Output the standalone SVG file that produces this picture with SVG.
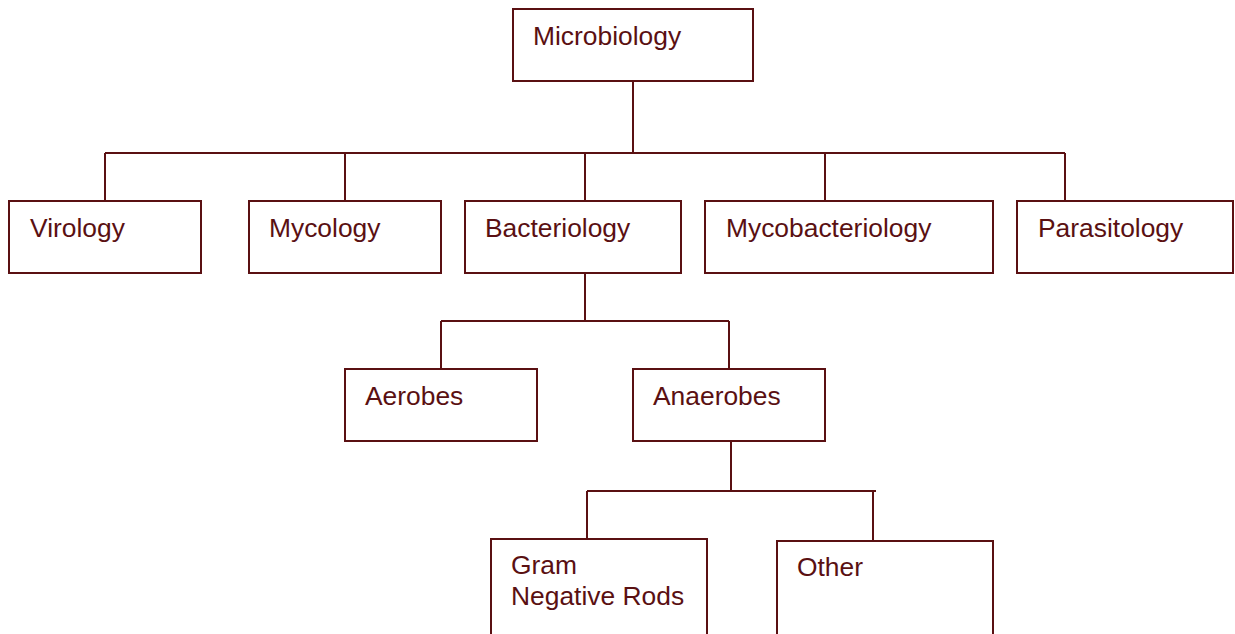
<svg xmlns="http://www.w3.org/2000/svg" width="1235" height="634" viewBox="0 0 1235 634">
<style>
.box{fill:#fff;stroke:#5a1012;stroke-width:2}
.lbl{font-family:"Liberation Sans",Arial,sans-serif;font-size:26.4px;fill:#5a1012}
.conn{fill:none;stroke:#5a1012;stroke-width:2}
</style>
<rect width="1235" height="634" fill="#fff"/>
<g id="connectors" class="conn">
<path d="M633 81V153M105 153H1065M105 153V201M345 153V201M585 153V201M825 153V201M1065 153V201"/>
<path d="M585 273V321M441 321H729M441 321V369M729 321V369"/>
<path d="M731 441V491M587 491H876M587 491V539M873 491V541"/>
</g>
<g id="microbiology"><rect class="box" x="513" y="9" width="240" height="72"/><text class="lbl" x="533" y="45">Microbiology</text></g>
<g id="virology"><rect class="box" x="9" y="201" width="192" height="72"/><text class="lbl" x="30" y="237">Virology</text></g>
<g id="mycology"><rect class="box" x="249" y="201" width="192" height="72"/><text class="lbl" x="269" y="237">Mycology</text></g>
<g id="bacteriology"><rect class="box" x="465" y="201" width="216" height="72"/><text class="lbl" x="485" y="237">Bacteriology</text></g>
<g id="mycobacteriology"><rect class="box" x="705" y="201" width="288" height="72"/><text class="lbl" x="726" y="237">Mycobacteriology</text></g>
<g id="parasitology"><rect class="box" x="1017" y="201" width="216" height="72"/><text class="lbl" x="1038" y="237">Parasitology</text></g>
<g id="aerobes"><rect class="box" x="345" y="369" width="192" height="72"/><text class="lbl" x="365" y="405">Aerobes</text></g>
<g id="anaerobes"><rect class="box" x="633" y="369" width="192" height="72"/><text class="lbl" x="653" y="405">Anaerobes</text></g>
<g id="gram-negative-rods"><rect class="box" x="491" y="539" width="216" height="110"/><text class="lbl" x="511" y="574">Gram</text><text class="lbl" x="511" y="605">Negative Rods</text></g>
<g id="other"><rect class="box" x="777" y="541" width="216" height="110"/><text class="lbl" x="797" y="576">Other</text></g>
</svg>
